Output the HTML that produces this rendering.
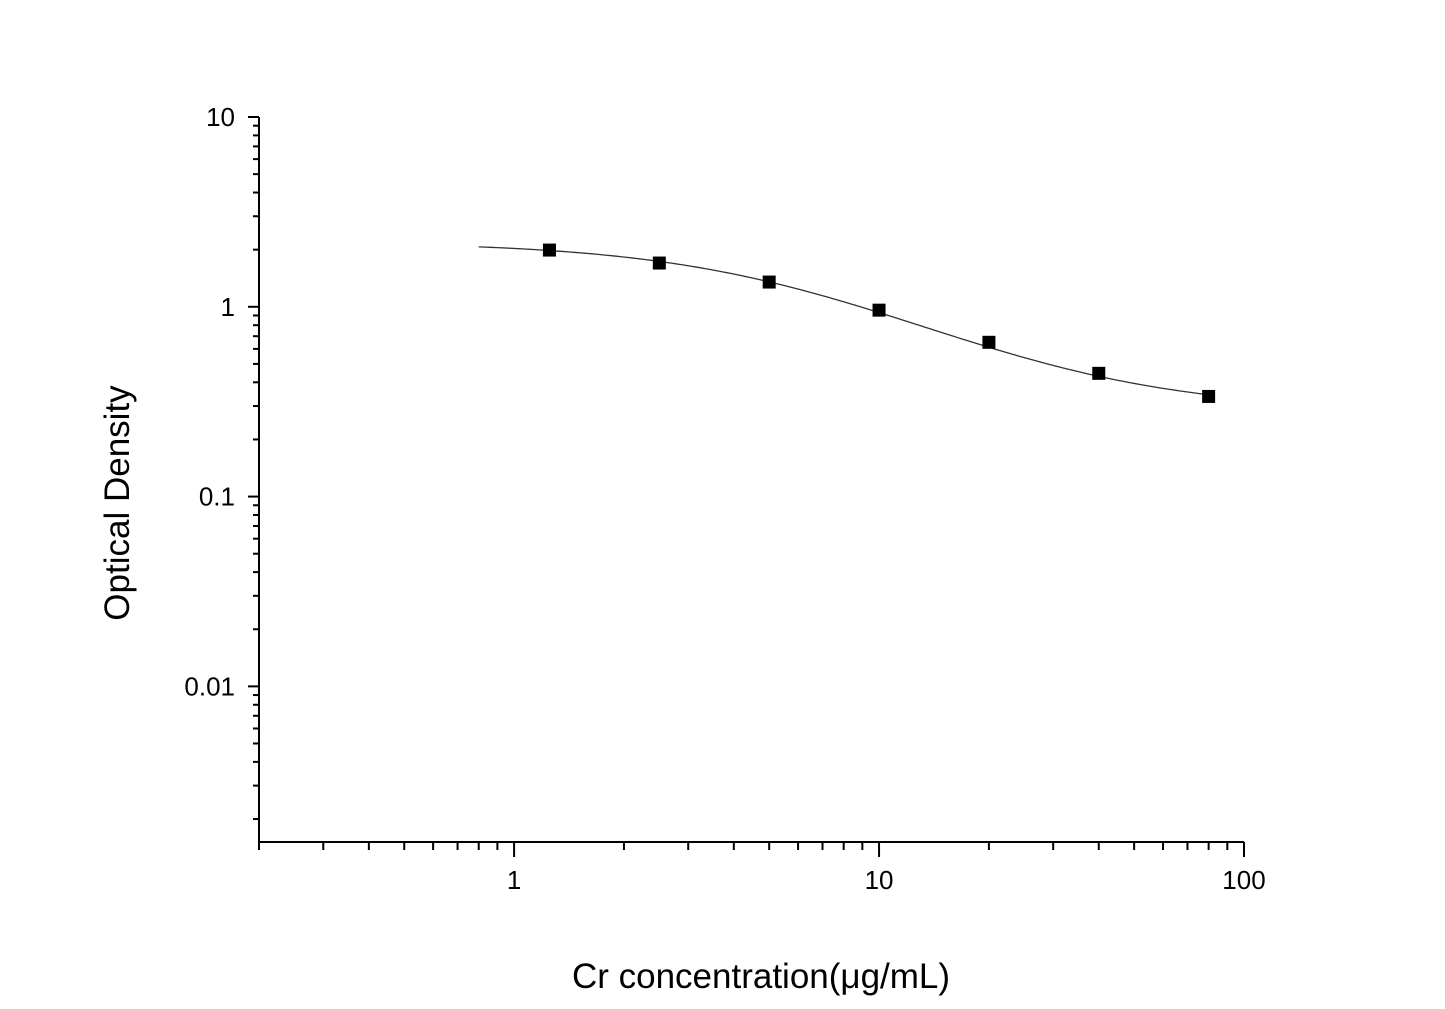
<!DOCTYPE html>
<html><head><meta charset="utf-8"><style>
body{margin:0;background:#fff}
svg{display:block;font-family:"Liberation Sans",Arial,sans-serif}
</style></head><body>
<svg id="chart" width="1445" height="1009" viewBox="0 0 1445 1009">
<g id="axes"></g>
<g id="curve"></g>
<g id="points"></g>
<text x="761" y="988" font-size="35" text-anchor="middle">Cr concentration(μg/mL)</text>
<text transform="translate(129,503) rotate(-90)" font-size="35" text-anchor="middle">Optical Density</text>
</svg>
<script>
const concentrations=[1.25,2.5,5,10,20,40,80];
const densities=[1.99,1.70,1.35,0.96,0.65,0.446,0.337];
const fitParams=[2.2,0.28,6,1.3]; // A(top), D(bottom), C, B
const fitRange=[0.8,80];
const xTickLabels=["1","10","100"];
const yTickLabels=["10","1","0.1","0.01"];

const NS="http://www.w3.org/2000/svg";
const X0=259,X1=1244,Y0=842,Y1=117;
const xmin=Math.log10(0.2),xmax=2;
const ymin=-2.82,ymax=1;
function sx(v){return X0+(Math.log10(v)-xmin)/(xmax-xmin)*(X1-X0);}
function sy(v){return Y0-(Math.log10(v)-ymin)/(ymax-ymin)*(Y0-Y1);}
function el(t,a,p){const e=document.createElementNS(NS,t);for(const k in a)e.setAttribute(k,a[k]);p.appendChild(e);return e;}
const axes=document.getElementById('axes');
let ax=el('line',{x1:X0,y1:Y1,x2:X0,y2:Y0+1,stroke:'#000','stroke-width':2},axes);


ax=el('line',{x1:X0-1,y1:Y0,x2:X1,y2:Y0,stroke:'#000','stroke-width':2},axes);


for(let d=-1;d<=2;d++){for(let m=1;m<=9;m++){const v=m*Math.pow(10,d);if(v<0.2-1e-9||v>100+1e-9)continue;const x=sx(v);const maj=m===1;
 const t=el('line',{x1:x,y1:Y0,x2:x,y2:Y0+(maj?15:8),stroke:'#000','stroke-width':2},axes);
 
 }}
xTickLabels.forEach(s=>{const t=el('text',{x:sx(+s),y:889,'font-size':26,'text-anchor':'middle'},axes);t.textContent=s;
 
 });
for(let d=-3;d<=0;d++){for(let m=1;m<=9;m++){const v=m*Math.pow(10,d);if(Math.log10(v)<ymin)continue;if(v>10+1e-9)continue;const y=sy(v);const maj=m===1;
 const t=el('line',{x1:X0,y1:y,x2:X0-(maj?11:6),y2:y,stroke:'#000','stroke-width':2},axes);
 
 }}
const tt=el('line',{x1:X0,y1:sy(10),x2:X0-11,y2:sy(10),stroke:'#000','stroke-width':2},axes);


yTickLabels.forEach(s=>{const t=el('text',{x:X0-24,y:sy(+s)+9,'font-size':26,'text-anchor':'end'},axes);t.textContent=s;
 
 });
const [A,D,C,B]=fitParams;
function f(x){return D+(A-D)/(1+Math.pow(x/C,B));}
let pts=[];const l0=Math.log10(fitRange[0]),l1=Math.log10(fitRange[1]);
for(let i=0;i<=200;i++){const x=Math.pow(10,l0+(l1-l0)*i/200);pts.push(sx(x).toFixed(2)+','+sy(f(x)).toFixed(2));}
const pl=el('polyline',{points:pts.join(' '),fill:'none',stroke:'#333','stroke-width':1.3},document.getElementById('curve'));


const pg=document.getElementById('points');
concentrations.forEach((c,i)=>{const r=el('rect',{x:sx(c)-6.5,y:sy(densities[i])-6.5,width:13,height:13,fill:'#000'},pg);
 
 });
</script>
</body></html>
